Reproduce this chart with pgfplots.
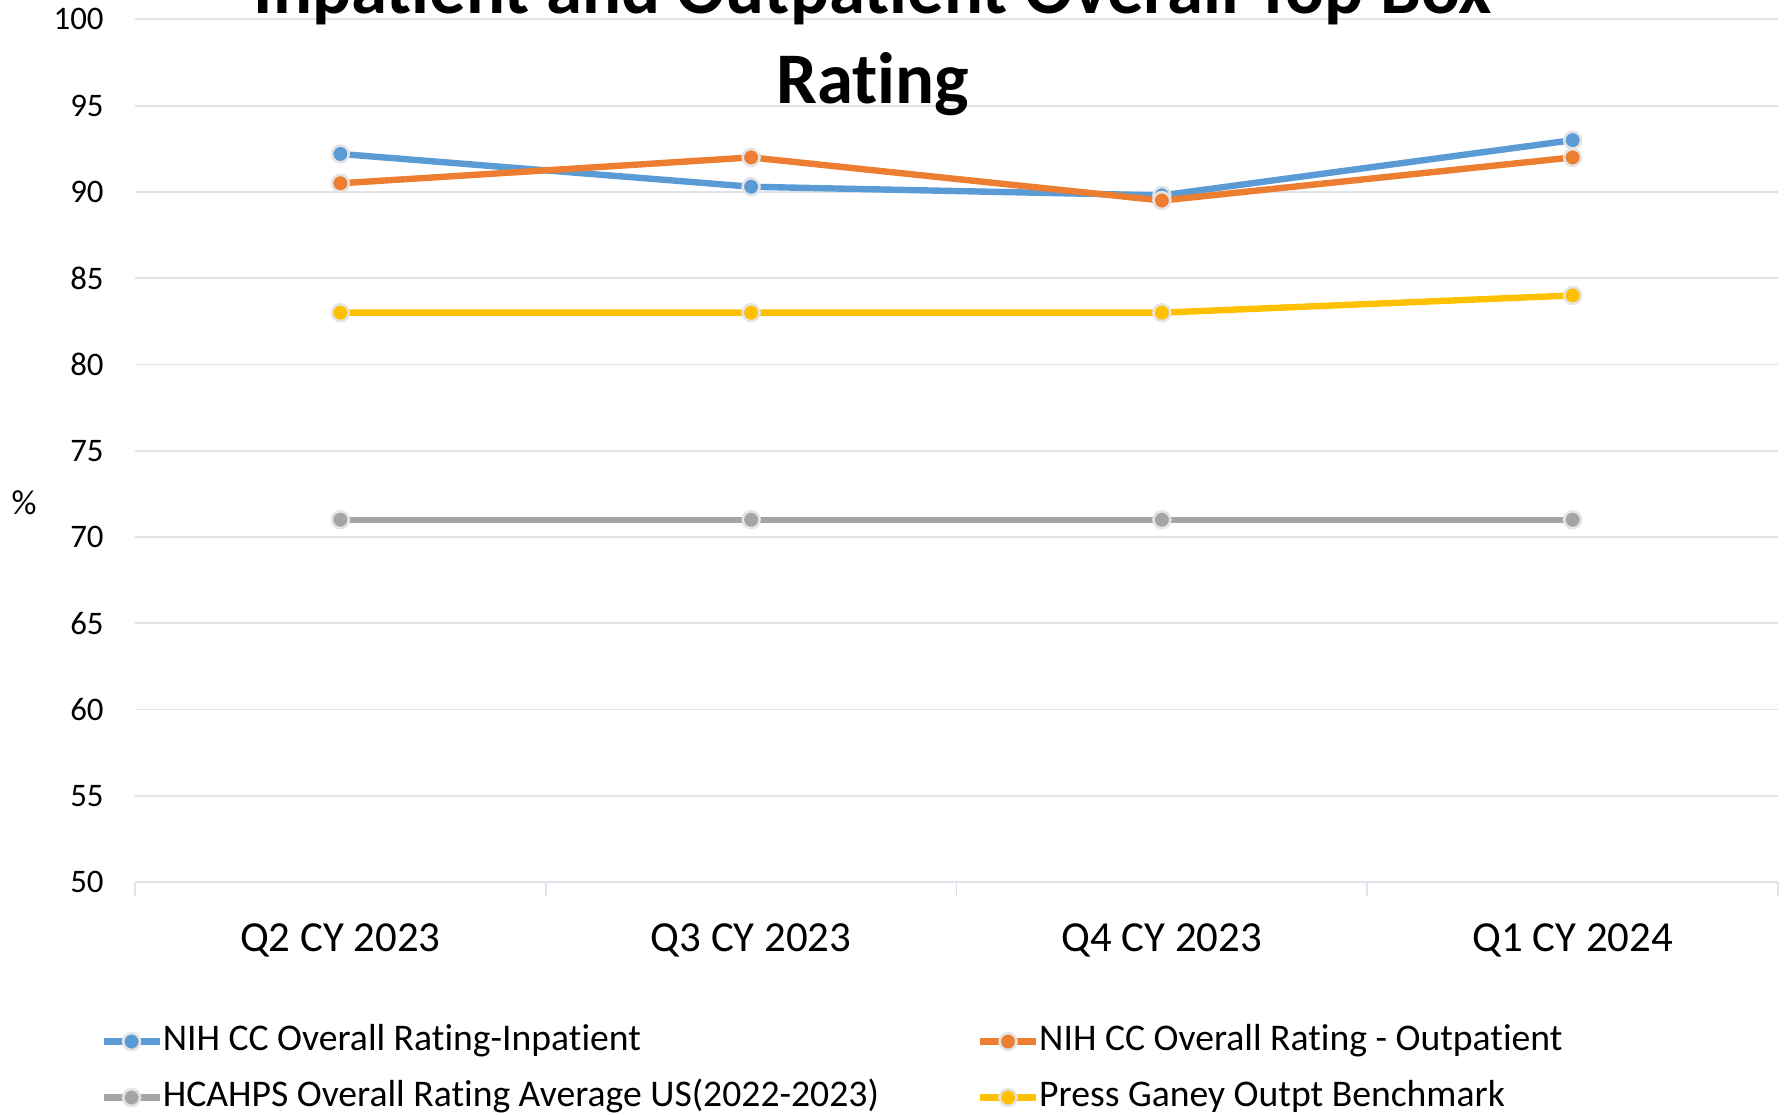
\documentclass[border=0pt]{standalone}
\usepackage{fontspec}
\setmainfont{Carlito}[Ligatures=NoCommon]
\usepackage{pgfplots}
\pgfplotsset{compat=1.18}
\definecolor{cblue}{HTML}{5B9BD5}
\definecolor{corange}{HTML}{ED7D31}
\definecolor{cgray}{HTML}{A5A5A5}
\definecolor{cyellow}{HTML}{FFC000}
\definecolor{gridc}{HTML}{DFE4EA}
\definecolor{markedge}{HTML}{E4E4E4}
\pgfplotsset{
  ser/.style={line width=3.2bp, color=#1, mark=*, mark size=4.2bp,
    mark options={draw=markedge, fill=#1, line width=1.3bp}},
}
\begin{document}
\begin{tikzpicture}
\begin{axis}[
  at={(67.5bp,116.5bp)}, anchor=south west,
  scale only axis, width=821.5bp, height=431.3bp,
  xmin=-0.5, xmax=3.5, ymin=50, ymax=100,
  ytick={50,55,...,100},
  xtick={0,1,2,3},
  xticklabels={Q2 CY 2023, Q3 CY 2023, Q4 CY 2023, Q1 CY 2024},
  axis x line*=bottom, axis y line*=left,
  x axis line style={draw=gridc, line width=0.9bp, -},
  y axis line style={draw=none},
  ymajorgrids, grid style={draw=gridc, line width=0.9bp},
  major tick length=0pt,
  ytick style={draw=none}, xtick style={draw=none},
  extra x ticks={-0.5,0.5,1.5,2.5,3.5},
  extra x tick labels={},
  extra x tick style={major tick length=7bp, tick align=outside, xtick style={draw=gridc, line width=0.9bp}, xmajorgrids=false},
  /pgf/number format/assume math mode=true,
  yticklabel style={font=\fontsize{16.5}{20}\selectfont, anchor=east, inner sep=0pt, xshift=-15.5bp},
  xticklabel style={font=\fontsize{21.5}{26}\selectfont, anchor=base, inner sep=0pt, yshift=-34.5bp},
  ylabel={\%},
  ylabel style={rotate=-90, at={(axis description cs:-0.0675,0.4394)}, anchor=center, font=\fontsize{17.5}{21}\selectfont, inner sep=0pt},
  title={Inpatient and Outpatient Overall Top Box\\Rating},
  title style={at={(axis description cs:0.449,0.8887)}, anchor=base, align=center, font=\fontsize{36.5}{45}\selectfont\bfseries, inner sep=0pt},
  legend columns=2,
  legend cell align=left,
  legend image code/.code={\draw[mark repeat=2,mark phase=2,#1] plot coordinates {(0bp,0bp) (14bp,0bp) (28bp,0bp)};},
  legend style={draw=none, fill=none, at={(axis description cs:-0.0213,-0.1625)}, anchor=north west, inner sep=0pt,
    font=\fontsize{18.9}{22}\selectfont, row sep=9bp,
    nodes={inner sep=1bp, inner xsep=0pt, text height=13bp, text depth=4bp},
    /tikz/column 2/.style={column sep=49bp}},
]
\addplot[ser=cblue] coordinates {(0,92.2) (1,90.3) (2,89.8) (3,93.0)};
\addlegendentry{NIH CC Overall Rating-Inpatient}
\addplot[ser=corange] coordinates {(0,90.5) (1,92.0) (2,89.5) (3,92.0)};
\addlegendentry{NIH CC Overall Rating - Outpatient}
\addplot[ser=cgray] coordinates {(0,71) (1,71) (2,71) (3,71)};
\addlegendentry{HCAHPS Overall Rating Average US(2022-2023)}
\addplot[ser=cyellow] coordinates {(0,83) (1,83) (2,83) (3,84)};
\addlegendentry{Press Ganey Outpt Benchmark}
\end{axis}
\pgfresetboundingbox
\path[use as bounding box] (0,0) rectangle (893.5bp,557.5bp);
\end{tikzpicture}
\end{document}
